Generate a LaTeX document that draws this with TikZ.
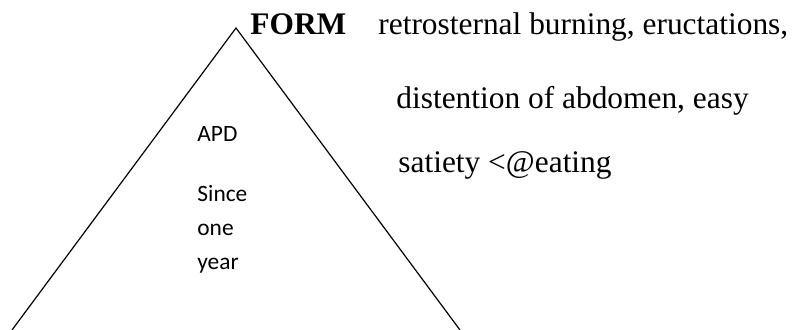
\documentclass[tikz,border=0pt]{standalone}
\usepackage{fontspec}
\setmainfont{Liberation Serif}
\newfontfamily\calibrifont{Carlito}
\usepackage{tikz}
\usetikzlibrary{positioning}

\begin{document}
\begin{tikzpicture}[x=0.5pt, y=-0.5pt,
  serif/.style={anchor=base west, inner sep=0pt, font=\fontsize{15.7}{18}\selectfont},
  sans/.style={anchor=base west, inner sep=0pt, font=\calibrifont\fontsize{11.7}{14}\selectfont},
  edge/.style={line width=0.6pt, black}]
  \useasboundingbox (0,0) rectangle (808,330);
  % triangle
  \coordinate (apex) at (236,28);
  \coordinate (left) at (12,330);
  \coordinate (right) at (460,330);
  \draw[edge] (left) -- (apex) -- (right);
  % text right of the apex
  \node[serif] (form) at (250,35) {\bfseries FORM};
  \node[serif] (line1) at (378,35) {retrosternal burning, eructations,};
  \node[serif] (line2) at (396,109) {distention of abdomen, easy};
  \node[serif] (line3) at (398,173) {satiety <@eating};
  % text inside the triangle
  \node[sans] (apd) at (197,142) {APD};
  \node[sans] (since) at (197,202) {Since};
  \node[sans] (one) at (197,236) {one};
  \node[sans] (year) at (197,270) {year};
\end{tikzpicture}
\end{document}
